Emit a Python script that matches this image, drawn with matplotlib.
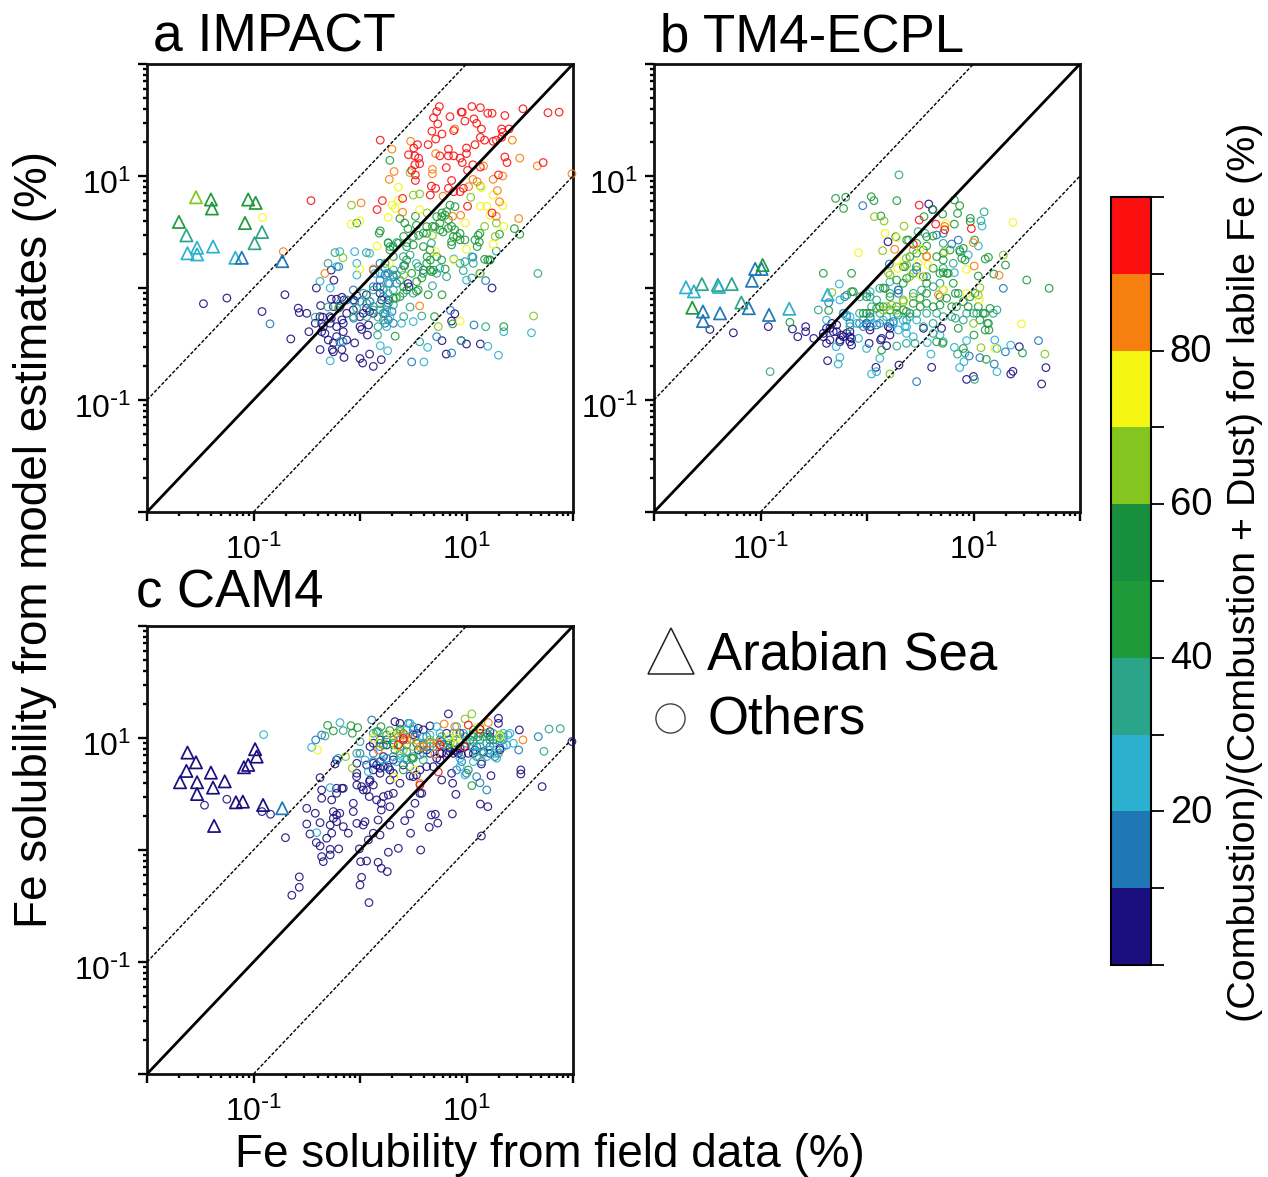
import matplotlib
matplotlib.use("Agg")
import matplotlib.pyplot as plt
import numpy as np
from matplotlib.colors import ListedColormap, BoundaryNorm
from matplotlib.cm import ScalarMappable
from matplotlib.ticker import FixedLocator, FixedFormatter, NullFormatter
from matplotlib.transforms import ScaledTranslation

plt.rcParams['font.family'] = ['Liberation Sans', 'DejaVu Sans']
plt.rcParams['mathtext.default'] = 'regular'

# All positions below are log10(solubility in %); bin value = combustion share (%).
BOUNDS = [0, 10, 20, 30, 40, 50, 60, 70, 80, 90, 100]
BIN_COLORS = ['#1b0f80', '#1f78b4', '#2bb0cf', '#2aa58a', '#1f9a3a', '#178f3c',
              '#84c51f', '#f6f615', '#f77f10', '#fb0f0f']

# ---- Panel a: IMPACT ----
a_tri_x = [-1.54,-1.40,-1.39,-1.70,-1.63,-1.53,-1.62,-1.53,-1.38,-1.05,-.98,-1.08,-.92,-.99,-1.17,-1.11,-.73]
a_tri_y = [.81,.79,.71,.59,.47,.36,.31,.30,.37,.79,.76,.58,.50,.40,.27,.27,.24]
a_tri_v = [65,45,45,45,35,25,25,25,25,45,45,45,35,35,25,15,15]

a_x_05 = [-1.47,-1.25,-.705,-.92,-.65,-.58,-.57,-.50,-.48,-.41,-.27,-.245,-.37,-.27,-.22,-.17,-.15,-.03,-.06,.06,.16,.45,.46,1.24,.89,.86,.95,.77,1.00,1.13,.81,-.35,-.27,-.36,-.33,-.25,-.375,-.26,-.25,-.15,-.17,-.05,0,.015,.07,.08,0,.025,.09,.125,.20,.03,.09,-.125,-.17,-.28,-.36,-.42,
          -.157,-.22,-.345,-.376,-.282,-.25,-.188,-.063,0,.062,.125,.188,.203,.266,-.157,-.125,-.298,-.22]
a_y_05 = [-.14,-.09,-.06,-.21,-.455,-.18,-.22,-.226,-.39,0,.16,.07,-.157,-.10,-.10,-.083,-.107,-.07,-.107,-.06,.01,.04,.01,0,-.23,-.295,-.47,-.47,-.50,-.50,-.59,-.26,-.27,-.39,-.405,-.49,-.55,-.55,-.57,-.62,-.55,-.49,-.345,-.37,-.42,-.33,-.63,-.67,-.59,-.70,-.64,-.226,-.21,-.226,-.285,-.315,-.315,-.315,
          -.315,-.345,-.345,-.256,-.256,-.166,-.166,-.196,-.256,-.181,-.226,-.047,-.107,-.107,-.39,-.464,-.464,-.434]
a_x_15 = [-.845,.485,.86,.72,1.07,.85,1.18,-.20,.19,.235,.19,.345,.595,.125,1.06,.41,-.05,0,.235,.30,-.06,-.19,-.16,
          .188,.235,.266,.188,.266,.125,.219,.266,.219,.266,.313,.235,.062,.125,-.063,-.125,.313,.344]
a_y_15 = [-.32,-.66,-.58,-.435,-.33,-.20,.066,.19,.13,.116,.01,.116,.16,.16,.275,.2,-.12,-.12,-.23,-.21,-.27,-.48,-.48,
          .22,.176,.131,.071,.042,.012,-.077,-.137,-.226,-.285,-.315,-.315,-.137,-.166,-.018,-.107,.101,.042]
a_x_25 = [-.05,-.19,-.03,-.03,-.375,-.28,-.22,.09,.53,.75,.88,1.05,1.00,.14,.25,.28,.265,.25,.28,.25,.39,.50,1.35,1.61,1.30,1.20,.635,.60,.26,-.28,.19]
a_y_25 = [.325,.325,.22,.116,.06,0,.19,.31,.22,.176,.26,.28,.07,.13,.13,.04,-.05,-.196,-.255,-.345,-.315,-.30,-.39,-.40,-.60,-.52,-.53,-.66,-.56,-.65,-.515]
a_x_35 = [-.30,-.235,.06,.265,.345,.44,.47,.67,.985,.97,1.22,1.67,1.28,1.05,.68,.31,.375,.19,.09,.17,.22,.17,.165,.41,.58,.47,1.18,.56,.95,-.30,-.42,
          .235,.313,.391,.407,.281,.125,.219,.313,.407,.50,.094,.031,.125,.188,.25,.313,.062,-.063,-.188,-.032,.939,1.064,1.126,.72,.813]
a_y_35 = [.22,.316,.316,.405,.405,.405,.295,.40,.235,.155,.25,.13,.33,.09,.02,.116,.07,-.14,-.12,-.26,-.285,-.345,-.42,-.255,-.25,-.17,-.345,-.48,-.47,-.17,-.26,
          .22,.161,.161,.28,.369,-.018,-.018,-.018,-.047,-.047,-.122,-.047,-.196,-.196,-.152,-.152,-.256,-.256,-.137,-.181,.22,.22,.131,.131,.101]
a_x_45 = [.28,-.03,.19,.18,.52,.375,.42,.45,.53,.55,.595,.68,.77,.80,.845,.83,.75,.86,.78,.89,.91,.86,.94,1.11,1.12,1.10,1.31,1.45,1.50,1.20,.63,.66,.50,.595,.69,.80,.66,.42,.58,.53,.77,.64,.41,.34,1.35,.87,.70,.33,-.20,.31,.265,.41,
          .767,.813,.892,.72,.829,.876,.939,.986,.86,1.08,1.126,1.22,1.17,.626,.50,.438,.36,.281,.657,.72,.626,.547,.485,.673,.594,.532,.438,.313,.375,.547,.767,.438,.313,.751,.704,.626]
a_y_45 = [1.14,.58,.51,.49,.64,.62,.58,.53,.56,.47,.49,.55,.67,.65,.74,.61,.58,.55,.50,.52,.46,.385,.43,.47,.41,.37,.48,.53,.48,.25,.28,.25,.385,.37,.16,.17,.16,.2,.09,-.03,-.06,-.06,.01,-.09,-.345,-.32,-.255,-.43,-.18,.37,.40,.46,
          .637,.682,.726,.637,.533,.459,.488,.429,.414,.429,.488,.25,.256,.488,.459,.369,.399,.34,.34,.28,.22,.19,.131,.146,.131,.057,-.018,-.092,-.077,-.018,.25,.25,.28,.518,.548,.548]
a_x_65 = [-.08,.47,.50,.56,.63,1.04,1.13,1.17,1.28,1.27,1.13,1.63,.735,-.16,.41,.68]
a_y_65 = [.74,1.03,.83,.84,.67,.81,.91,.55,.58,.46,.13,-.25,-.345,.27,.116,.47]
a_x_75 = [.36,-.915,-.085,0,.16,0,.275,.30,.33,.265,.36,.56,1.14,1.25,1.13,1.19,1.34,1.35,1.25,1.00,.99,.71,.94,.88,1.22]
a_y_75 = [.90,.63,.57,.60,.375,.17,.22,.74,.71,.63,.785,.70,.896,.83,.73,.73,.735,.55,.39,.345,.58,.325,-.295,.25,.65]
a_x_85 = [.475,.30,.71,.89,1.43,1.50,1.665,1.16,1.99,1.34,1.25,1.06,1.10,1.02,1.29,1.31,1.28,1.49,.945,.78,.68,.68,.32,.275,.01,.40,.87,.56,-.33,-.72,.125]
a_y_85 = [1.31,1.24,1.20,1.42,1.32,1.16,1.09,1.09,1.02,1.00,.97,.97,.95,.905,.87,.77,.64,.62,.65,.82,1.06,1.02,1.04,.97,.76,.676,.64,-.16,.13,.325,.17]
a_x_95 = [.745,.72,.69,.73,.845,.95,.96,1.05,1.13,1.20,1.24,1.36,1.53,1.765,1.87,1.07,1.095,.985,1.14,1.13,1.33,1.34,1.40,1.33,1.28,1.25,1.17,1.08,1.00,1.00,.88,.675,.77,.71,.64,.54,.505,.455,.515,.55,.75,.83,.83,.88,.94,.96,1.06,1.13,1.01,.81,.515,.485,.56,.52,.52,.19,.67,.86,.71,.83,.66,.88,.94,.97,1.36,1.38,1.72,1.30,1.01,1.24,.40,.21,.16,-.46]
a_y_95 = [1.62,1.575,1.52,1.465,1.53,1.57,1.57,1.62,1.61,1.56,1.56,1.54,1.60,1.565,1.57,1.51,1.47,1.49,1.42,1.345,1.42,1.39,1.42,1.345,1.32,1.31,1.32,1.28,1.25,1.20,1.405,1.40,1.375,1.33,1.28,1.28,1.25,1.19,1.18,1.16,1.18,1.24,1.18,1.18,1.16,1.12,1.10,1.08,1.05,1.075,1.10,1.05,1.11,1.01,.96,1.32,.91,.96,.89,.89,.83,.86,.86,.89,1.17,1.12,1.12,1.01,.73,.67,.80,.78,.70,.78]

# ---- Panel b: TM4-ECPL ----
b_tri_x = [-1.70,-1.625,-1.55,-1.40,-1.39,-1.27,-1.05,-.99,-.98,-1.08,-1.18,-1.64,-1.54,-1.11,-1.38,-1.54,-.92,-.73,-.37]
b_tri_y = [.006,-.03,.035,.027,.01,.035,.17,.17,.205,.065,-.13,-.176,-.21,-.18,-.226,-.295,-.24,-.185,-.06]
b_tri_v = [25,25,35,35,25,35,15,15,45,15,35,45,15,15,15,15,15,25,25]

b_x_05 = [.58,.616,.197,-1.475,-1.255,-.927,-.70,-.576,-.576,-.65,-.50,-.41,-.33,-.285,-.38,-.285,-.24,-.16,-.145,-.255,-.38,.03,.20,.215,.128,.02,.184,-.145,-.37,.084,.30,.607,.935,1.0,1.35,1.37,1.64,1.68,1.43,.53,.70,
          -.348,-.317,-.191,-.16,-.254,-.41,-.348,-.16,-.223,.216,-.004,.028,.137]
b_y_05 = [.75,.70,.413,-.37,-.40,-.345,-.366,-.345,-.39,-.435,-.45,-.405,-.316,-.33,-.494,-.39,-.42,-.39,-.45,-.48,-.36,-.345,-.345,-.42,-.464,-.494,-.515,-.509,-.649,-.708,-.688,-.708,-.816,-.79,-.768,-.744,-.857,-.711,-.524,-.36,-.36,
          -.36,-.39,-.405,-.435,-.464,-.435,-.464,-.48,-.435,-.36,-.316,-.375,-.45]
b_x_15 = [-.04,.795,.857,.21,.294,1.28,1.61,.466,.96,1.06,1.30,1.195,-.21,-.22,-.07,.12,.03,.247,-.36,.466,.654,.716,
          -.004,.09,.216,-.16,-.035,-.19,.294,.294,.466,.529]
b_y_15 = [.735,.393,.428,.214,-.018,-.003,-.47,-.836,-.607,-.622,-.57,-.679,-.078,-.226,-.316,-.316,-.256,-.30,-.131,.16,.473,.488,
          -.33,-.33,-.316,-.316,-.345,-.256,-.018,-.048,.19,.101]
b_x_25 = [-.26,-.255,-.38,1.08,1.045,.95,.82,.03,.215,-.19,-.004,.37,.356,.566,.60,.82,.935,1.20,1.22,1.35,1.22,.87,.91,.043,.09,.12,-.255,-.27,-.29,-.08,.40,.466,.685,.03,
          .153,.247,.341,-.035,-.098,.059,-.16,-.223,.372,.294,.435]
b_y_25 = [.036,-.107,-.286,.553,.375,.295,.137,-.033,.056,-.24,-.54,-.405,-.345,-.488,-.59,-.53,-.47,-.464,-.54,-.51,-.747,-.71,-.658,-.768,-.747,-.628,-.62,-.679,-.524,-.45,-.256,-.286,-.42,-.27,
          -.286,-.316,-.286,-.286,-.316,-.316,-.256,-.226,-.345,-.375,-.435]
b_x_35 = [.30,.48,.544,1.07,.87,1.10,-.91,-.457,.92,.85,1.01,1.13,.716,.28,.37,.45,.09,-.07,-.19,-.16,-.004,1.186,1.22,.62,1.0,.83,.12,.28,
          .043,.122,.184,.294,.372,.466,.56,.654,.716,.795,.904,.935,1.03,.513,.435,.622,.685,.028,-.066,.216,.466,.716,.81,.716,.529,.622]
b_y_35 = [1.01,.503,.488,.60,.339,.68,-.747,-.196,-.58,-.59,-.816,-.316,-.48,-.518,-.494,-.494,-.107,-.226,-.063,-.345,-.048,-.226,-.196,-.316,-.226,-.27,-.003,-.226,
          -.167,-.226,-.256,-.241,-.286,-.226,-.226,-.226,-.256,-.256,-.286,-.226,-.226,-.018,-.048,.012,.042,-.078,-.078,-.048,.19,.176,.22,.399,-.345,-.405]
b_x_45 = [-.295,-.20,-.22,.04,.065,.28,.13,.62,.535,.71,.82,.87,.85,.97,.97,.82,1.01,.39,.27,.56,.62,.904,.89,1.14,1.11,1.30,1.19,1.045,1.50,1.71,-.41,-.145,.17,-.145,.34,.56,.716,.75,.81,.83,.857,1.14,1.145,1.11,1.004,.654,.71,.904,1.46,1.12,.137,-.724,-.36,-.004,.12,.37,.56,.685,.50,.84,.95,1.155,1.09,.356,.716,
          .09,.153,.216,.278,.341,.403,.435,.497,.56,.622,.685,.748,.795,.857,.904,.967,1.014,1.045,.153,.278,.372,.435,.56,.622,.685,.763,.341,.403,.466,.529,.654,.716,.779,.873,.92,.372,.466,.56,.216,.028,-.035,-.129,-.004,1.108,1.06]
b_y_45 = [.80,.81,.71,.815,.78,.78,.643,.70,.637,.66,.786,.735,.666,.622,.592,.57,.428,.428,.458,.375,.464,.354,.265,.274,.259,.205,.125,.107,.071,-.003,.131,.131,-.003,-.033,.042,.042,.137,.131,.042,-.048,-.36,-.316,-.375,-.375,-.42,-.48,-.494,-.54,-.58,-.637,-.554,-.307,-.2,-.226,-.167,-.21,-.048,-.152,-.167,-.167,-.167,-.182,-.226,.19,.25,
          -.182,-.167,-.197,-.167,-.197,-.226,-.137,-.092,-.137,-.167,-.078,-.092,-.167,-.048,-.122,-.078,-.048,-.167,0,.071,.086,.131,.101,.176,.131,.131,.19,.28,.31,.339,.28,.31,.339,.324,.25,.428,.399,.458,-.078,-.226,-.226,-.033,-.078,-.226,-.286]
b_x_65 = [.07,.16,.347,-.33,.147,.20,.37,.40,.725,1.28,1.06,1.045,1.00,1.07,1.67,.215,.435,.184,.34,
          .153,.231,.341,.435,.716,.278,.216,.372]
b_y_65 = [.637,.598,.553,-.04,.333,.137,.265,.101,.324,.294,.003,-.063,-.316,-.533,-.59,-.768,.339,-.167,-.107,
          -.197,-.152,-.122,-.078,-.018,-.197,.116,.205]
b_x_75 = [1.37,.17,-.08,.28,.28,.29,.48,.51,.935,.71,.935,1.055,1.45,1.20,.74,.575,.50]
b_y_75 = [.586,.488,.315,.45,.25,.175,.22,.107,.166,-.018,-.05,-.107,-.32,-.54,.575,.205,.354]
b_x_85 = [.73,.998,.26,.56,1.007,1.24,.67,.56]
b_y_85 = [.55,.405,.345,.285,.196,.113,-.06,.28]
b_x_95 = [.49,.49,.645,.98,.73,.435]
b_y_95 = [.74,.607,.57,.53,.52,.39]

# ---- Panel c: CAM4 ----
c_tri_x = [-1.62,-1.54,-1.63,-1.69,-1.53,-1.40,-1.27,-1.38,-1.53,-1.165,-1.10,-1.09,-1.05,-.97,-.985,-.91,-1.37,-.73]
c_tri_y = [.87,.783,.706,.605,.605,.691,.613,.557,.50,.426,.432,.739,.76,.834,.90,.402,.215,.373]
c_tri_v = [5,5,5,5,5,5,5,5,5,5,5,5,5,5,5,5,5,15]

c_x_05 = [-1.46,-1.25,-.92,-.84,-.70,-.57,-.57,-.64,.084,0,.015,.006,.062,.17,.20,.256,.36,.266,.57,-.006,.078,.125,.188,.475,.65,.73,.42,.47,.67,.707,.867,1.13,1.20,.90,1.14,1.71,1.51,1.51,1.23,-.50,-.42,-.50,-.47,-.375,-.28,-.25,-.22,-.19,-.25,-.22,-.157,-.11,-.063,-.063,-.03,.047,.03,.17,.20,.20,.28,.28,-.36,-.36,-.266,-.22,-.17,-.157,-.22,-.03,.015,.062,.087,.09,.125,.156,.22,.266,.313,-.375,-.03,.188,.266,.375,.47,.53,.563,.58,.516,-.22,-.235,-.41,-.375,-.28,-.20,-.28,-.36,-.345,-.313,-.266,.328,.375,.547,.657,.83,1.30,1.30,1.496,1.314,1.064,.907,.876,.845,.94,.986,1.22,.75,.767,.86,.87,1.14,.50,.547,.657,.125,.22,.313,.25,.094,-.03,.062,1.99,
          .188,.25,.188,.156,.219,.281,.188,.125,.313,.407,.50,.563,.626,.688,.751,.813,.845,.892,.923,.954,1.017,1.08,1.158,1.22,1.314,1.126,1.22,.939,.532,.407,.594,.767,.767,.626,.72,.813,.125,.094,.281,-.032,.031]
c_y_05 = [.40,.453,.343,.319,.11,-.24,-.333,-.404,-.47,-.312,-.244,-.104,-.098,-.11,-.163,-.193,.015,-.02,0,.01,.09,.15,.134,.15,.203,.24,.262,.322,.313,.319,.322,.41,.387,.497,.125,.566,.715,.679,.664,.372,.328,.232,.143,.244,.223,.343,.313,.328,.283,.253,.209,.15,.417,.343,.238,.253,.223,.268,.357,.417,.387,.223,.536,.462,.447,.506,.551,.551,.551,.58,.566,.536,.477,.61,.58,.447,.477,.491,.506,.646,.685,.73,.739,.596,.661,.67,.506,.506,.417,.804,.768,.066,.036,.006,.01,-.044,-.059,-.104,.105,.15,1.146,1.131,1.087,1.108,1.215,1.176,1.131,1.072,.908,.863,.878,.863,.908,.908,.923,1.012,.863,.625,.685,.596,.768,1.03,.893,.863,.774,.834,.804,.983,.923,.774,.759,.968,
          .983,.938,.789,.759,.744,.715,.685,.715,.685,.759,.655,.715,.744,.744,.804,.863,.878,.893,.863,.849,.863,.893,.878,.863,.893,1.042,1.057,1.042,1.042,.983,1.072,.968,.863,.893,.819,1.042,.953,.625,.625,.655,.536]
c_x_15 = [.11,-.416,-.36,1.674,1.49,1.267,1.19,1.095,1.126,0,.454,.516,.83,1.064,1.22,.313,.188,.594,.907,1.0,
          .125,.25,.313,.438,.594,.688,.782,.876,.986,1.095,1.22,1.314,1.377,1.142,.954,.469,.235,.50,.626,.125]
c_y_15 = [1.161,.983,1.027,1.012,.893,.834,.536,.655,.60,.863,1.131,1.012,.983,1.012,.923,.834,.923,.938,.715,.685,
          .789,.819,.983,.878,.863,.923,.938,1.042,1.012,.923,.983,.997,.938,.789,.789,.744,.744,1.072,1.012,.863]
c_x_25 = [-.905,-.188,-.454,-.28,-.407,-.204,.078,.203,.047,.72,.47,.438,1.345,1.44,1.39,1.345,1.205,1.283,1.095,.986,.94,.657,
          .375,.532,.594,.751,.939,1.064,1.126,1.25,1.345,1.267,1.19,1.064,.939,.657,.344,.422,1.408,.907,.50,1.064]
c_y_25 = [1.03,1.137,.917,.557,.155,.819,.70,.804,.804,1.102,1.131,1.072,.923,.953,1.027,1.042,.893,.819,.878,.67,.744,1.027,
          .863,.953,1.012,1.042,.983,.923,.923,.953,.983,.863,.834,.789,.819,.923,.789,.819,1.042,1.102,1.102,1.072]
c_x_35 = [1.775,1.88,1.727,-.157,-.329,.172,0,-.03,.125,1.126,1.25,1.064,1.19,.767,.69,.50,.594,.375,1.158,1.30,
          .25,.375,.594,.751,.845,1.0,1.158,1.283,1.345,1.205,.97,.563,.438,.313,1.095]
c_y_35 = [1.08,1.084,.881,1.066,1.018,1.057,.968,.863,1.042,.983,1.042,.968,.953,1.012,.953,.834,.804,.819,.863,.863,
          .983,.923,.953,.983,.953,.953,1.012,.983,1.012,1.027,1.042,.849,.804,.938,.834]
c_x_45 = [-.304,-.25,-.085,-.072,-.022,.197,.156,.28,.375,1.05,1.017,.407,.50,.22,.328,1.19,.532,.876,1.064,
          .313,.438,.485,.594,.829,1.033,1.111,.344,.25,1.25,.188,.407]
c_y_45 = [1.113,1.063,1.11,1.042,1.093,1.102,1.057,1.066,1.078,.575,.715,.715,.819,.938,.893,1.042,.953,.953,1.042,
          .953,.938,.819,.923,.938,.983,1.012,1.042,1.027,.983,.953,1.042]
c_x_65 = [.986,1.05,-.135,-.072,.375,1.314,1.126,.407,.657,.907,.50]
c_y_65 = [1.17,1.215,.834,.73,1.057,1.027,1.10,.893,.983,1.042,.923]
c_x_75 = [-.398,.322,.297,.125,.344,.83,.907,1.08,1.314,.516,.907]
c_y_75 = [.893,.649,1.027,.997,.923,1.012,.997,1.087,1.012,.715,.938]
c_x_85 = [.79,.89,1.205,1.53,.563,.172,.36,.42,.485,.563,.657,.704,1.126,.735,.751,.594,.438]
c_y_85 = [1.125,1.102,1.137,.983,.596,.893,1.012,1.027,.988,.923,.953,.857,1.078,.953,.938,.923,.983]
c_x_95 = [1.017,1.126,.735,.976,.75,.407,.36,.563]
c_y_95 = [1.116,1.078,.697,.923,.938,.997,.938,.58]

a_groups = [(5,a_x_05,a_y_05),(15,a_x_15,a_y_15),(25,a_x_25,a_y_25),(35,a_x_35,a_y_35),(45,a_x_45,a_y_45),(65,a_x_65,a_y_65),(75,a_x_75,a_y_75),(85,a_x_85,a_y_85),(95,a_x_95,a_y_95)]
b_groups = [(5,b_x_05,b_y_05),(15,b_x_15,b_y_15),(25,b_x_25,b_y_25),(35,b_x_35,b_y_35),(45,b_x_45,b_y_45),(65,b_x_65,b_y_65),(75,b_x_75,b_y_75),(85,b_x_85,b_y_85),(95,b_x_95,b_y_95)]
c_groups = [(5,c_x_05,c_y_05),(15,c_x_15,c_y_15),(25,c_x_25,c_y_25),(35,c_x_35,c_y_35),(45,c_x_45,c_y_45),(65,c_x_65,c_y_65),(75,c_x_75,c_y_75),(85,c_x_85,c_y_85),(95,c_x_95,c_y_95)]

W, H = 1268, 1177
fig = plt.figure(figsize=(W/100, H/100), dpi=100, facecolor='white')
cmap = ListedColormap(BIN_COLORS)
norm = BoundaryNorm(BOUNDS, cmap.N)

TICKS = [0.01, 0.1, 1, 10, 100]
TICK_LABELS = ['', r'$10^{\text{-}1}$', '', r'$10^{1}$', '']
MINOR = [m * 10.0**e for e in range(-2, 2) for m in range(2, 10)]

def px_axes(l, t, r, b):
    return fig.add_axes([l/W, 1-b/H, (r-l)/W, (b-t)/H])

def panel(rect, groups, tx, ty, tv):
    ax = px_axes(*rect)
    ax.set_xscale('log'); ax.set_yscale('log')
    ax.set_xlim(0.01, 100); ax.set_ylim(0.01, 100)
    ax.plot([0.01, 100], [0.01, 100], color='k', lw=2.0, zorder=4)
    ax.plot([0.01, 10], [0.1, 100], color='k', lw=1.0, ls=(0, (2.5, 1.3)), zorder=4)
    ax.plot([0.1, 100], [0.01, 10], color='k', lw=1.0, ls=(0, (2.5, 1.3)), zorder=4)
    for v, xs, ys in groups:
        ax.scatter(10**np.array(xs), 10**np.array(ys), s=30, facecolors='none',
                   edgecolors=[cmap(norm(v))], linewidths=0.85, alpha=0.9, zorder=3, clip_on=False)
    ax.scatter(10**np.array(tx), 10**np.array(ty), s=78, marker='^', facecolors='none',
               edgecolors=cmap(norm(np.array(tv))), linewidths=1.25, zorder=5)
    for axis in (ax.xaxis, ax.yaxis):
        axis.set_major_locator(FixedLocator(TICKS))
        axis.set_major_formatter(FixedFormatter(TICK_LABELS))
        axis.set_minor_locator(FixedLocator(MINOR))
        axis.set_minor_formatter(NullFormatter())
    ax.tick_params(which='major', direction='out', length=6.5, width=1.7, labelsize=23)
    ax.tick_params(axis='y', which='major', pad=5)
    ax.tick_params(axis='x', which='major', pad=10)
    ax.tick_params(which='minor', direction='out', length=2.8, width=1.7)
    shift = ScaledTranslation(0, -4/72, fig.dpi_scale_trans)
    for lab in ax.yaxis.get_majorticklabels():
        lab.set_transform(lab.get_transform() + shift)
    for s in ax.spines.values():
        s.set_linewidth(2.0)
        s.set_color('#111111')
    return ax

panel((147, 64, 573, 512), a_groups, a_tri_x, a_tri_y, a_tri_v)
panel((654, 64, 1080, 512), b_groups, b_tri_x, b_tri_y, b_tri_v)
panel((147, 626, 573, 1074), c_groups, c_tri_x, c_tri_y, c_tri_v)

def ptext(x, y, s, **kw):
    fig.text(x/W, 1-y/H, s, **kw)

ptext(153, 51, 'a IMPACT', fontsize=38.5, ha='left', va='baseline')
ptext(660, 51, 'b TM4-ECPL', fontsize=38, ha='left', va='baseline')
ptext(136, 607, 'c CAM4', fontsize=38, ha='left', va='baseline')
ptext(35, 540, 'Fe solubility from model estimates (%)', fontsize=33, rotation=90, ha='center', va='center')
ptext(550, 1155, 'Fe solubility from field data (%)', fontsize=33, ha='center', va='center')
ptext(707, 670, 'Arabian Sea', fontsize=38, ha='left', va='baseline')
ptext(707, 733, 'Others', fontsize=38, ha='left', va='baseline')

# legend glyphs
ov = fig.add_axes([0, 0, 1, 1], facecolor='none')
ov.set_xlim(0, W); ov.set_ylim(H, 0); ov.axis('off')
ov.plot([671], [651], marker='^', ms=33, mfc='none', mec='#222222', mew=1.1, ls='none')
ov.plot([670], [718], marker='o', ms=21, mfc='none', mec='#444444', mew=1.0, ls='none')

# colour bar
cax = px_axes(1111, 197, 1151, 965)
sm = ScalarMappable(norm=norm, cmap=cmap)
cb = fig.colorbar(sm, cax=cax, spacing='proportional', ticks=BOUNDS)
cb.ax.set_yticklabels(['' if b not in (20, 40, 60, 80) else str(b) for b in BOUNDS])
cb.ax.tick_params(length=9.5, width=1.3, labelsize=27.5, pad=4)
shift2 = ScaledTranslation(0, 2/72, fig.dpi_scale_trans)
for lab in cb.ax.yaxis.get_majorticklabels():
    lab.set_transform(lab.get_transform() + shift2)
cb.outline.set_linewidth(1.5)
ptext(1245, 572, '(Combustion)/(Combustion + Dust) for labile Fe (%)', fontsize=28.4,
      rotation=90, ha='center', va='center')

fig.savefig('out.png', dpi=100)
